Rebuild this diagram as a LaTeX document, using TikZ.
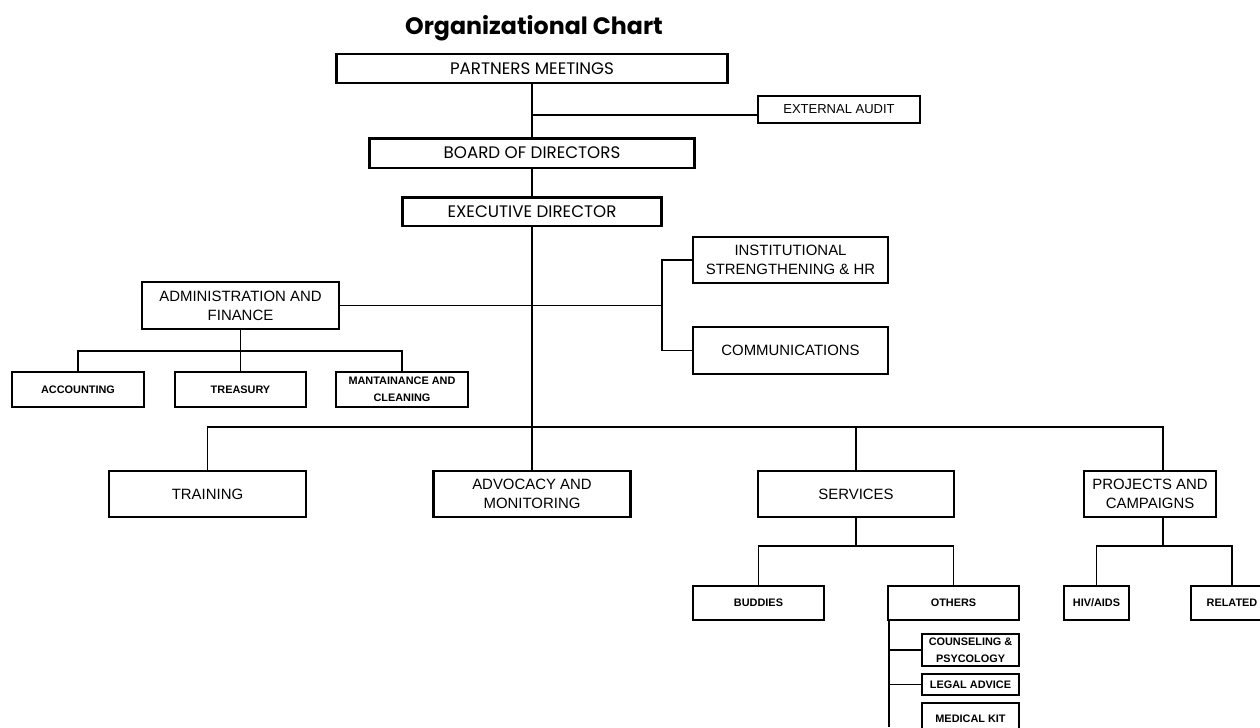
\documentclass[tikz,border=0pt]{standalone}
\usepackage{fontspec}
\setmainfont{Liberation Sans}
\newfontfamily\gothic{Poppins}
\begin{document}
\begin{tikzpicture}[x=0.02cm,y=-0.02cm,semithick,
  box/.style={draw,line width=1.5pt,inner sep=0pt,align=center,font=\fontsize{8.5}{10.8}\selectfont},
  gbox/.style={box,line width=1.7pt,font=\gothic\fontsize{9.5}{11}\selectfont},
  sbox/.style={draw,line width=1.4pt,inner sep=0pt,align=center,font=\bfseries\fontsize{6.2}{9.8}\selectfont},
  tbox/.style={sbox,line width=0.9pt},
  link/.style={line width=0.7pt}]
\useasboundingbox (0,0) rectangle (1260,727);
\node[anchor=base,font=\gothic\bfseries\fontsize{13.5}{15}\selectfont] (title) at (534,34) {Organizational Chart};
\node[gbox,minimum width=7.82cm,minimum height=0.58cm] (pm) at (532,68.5) {PARTNERS MEETINGS};
\node[box,line width=1.2pt,font=\fontsize{7.4}{9}\selectfont,minimum width=3.24cm,minimum height=0.54cm] (ea) at (839,109.5) {EXTERNAL AUDIT};
\node[gbox,minimum width=6.5cm,minimum height=0.6cm] (bod) at (532,153) {BOARD OF DIRECTORS};
\node[gbox,minimum width=5.2cm,minimum height=0.58cm] (ed) at (532,211.5) {EXECUTIVE DIRECTOR};
\node[box,minimum width=3.9cm,minimum height=0.92cm] (ish) at (790.5,260) {INSTITUTIONAL\\STRENGTHENING \& HR};
\node[box,minimum width=3.9cm,minimum height=0.94cm] (com) at (790.5,350.5) {COMMUNICATIONS};
\node[box,minimum width=3.94cm,minimum height=0.94cm] (af) at (240.5,305.5) {ADMINISTRATION AND\\FINANCE};
\node[sbox,minimum width=2.64cm,minimum height=0.7cm] (acc) at (78,389.5) {ACCOUNTING};
\node[sbox,minimum width=2.62cm,minimum height=0.7cm] (tre) at (240.5,389.5) {TREASURY};
\node[sbox,minimum width=2.64cm,minimum height=0.7cm] (mc) at (402,389.5) {MANTAINANCE AND\\CLEANING};
\node[box,minimum width=3.94cm,minimum height=0.92cm] (tr) at (207.5,494) {TRAINING};
\node[box,minimum width=3.94cm,minimum height=0.92cm] (adv) at (532,494) {ADVOCACY AND\\MONITORING};
\node[box,minimum width=3.92cm,minimum height=0.92cm] (ser) at (856,494) {SERVICES};
\node[box,minimum width=2.64cm,minimum height=0.92cm] (pc) at (1150,494) {PROJECTS AND\\CAMPAIGNS};
\node[sbox,minimum width=2.62cm,minimum height=0.68cm] (bud) at (758.5,603) {BUDDIES};
\node[sbox,minimum width=2.62cm,minimum height=0.68cm] (oth) at (953.5,603) {OTHERS};
\node[sbox,minimum width=1.3cm,minimum height=0.68cm] (hiv) at (1096.5,603) {HIV/AIDS};
\node[sbox,minimum width=1.64cm,minimum height=0.68cm] (rel) at (1232,603) {RELATED};
\node[tbox,minimum width=1.94cm,minimum height=0.64cm] (cp) at (970.5,650) {COUNSELING \&\\PSYCOLOGY};
\node[tbox,minimum width=1.94cm,minimum height=0.42cm] (la) at (970.5,684.5) {LEGAL ADVICE};
\node[tbox,minimum width=1.94cm,minimum height=0.64cm] (mk) at (970.5,719) {MEDICAL KIT};
\coordinate (j1) at (532,115);
\coordinate (j3) at (662,305.5);
\coordinate (j4) at (240.5,351);
\coordinate (j5) at (1163,427);
\coordinate (j6) at (856,546);
\coordinate (j7) at (1163,546);
\coordinate (j8) at (889,727);
\draw[link] (pm) -- (bod);
\draw[link] (j1) -- (j1 -| ea.west);
\draw[link] (bod) -- (ed);
\draw[link] (ed) -- (adv);
\draw[link] (af.east) -- (j3);
\draw[link] (ish.west) -| (j3) |- (com.west);
\draw[link] (af) -- (tre);
\draw[link] (acc.north) |- (j4) -| (mc.north);
\draw[link] (tr.north) |- (j5) -- (pc.north -| j5);
\draw[link] (ser.north) -- (ser.north |- j5);
\draw[link] (ser) -- (j6);
\draw[link] (bud.north) |- (j6) -| (oth.north);
\draw[link] (j7 |- pc.south) -- (j7);
\draw[link] (hiv.north) |- (j7) -| (rel.north);
\draw[link] (oth.south -| j8) -- (j8);
\draw[link] (cp.west -| j8) -- (cp.west);
\draw[link] (la.west -| j8) -- (la.west);
\end{tikzpicture}
\end{document}
